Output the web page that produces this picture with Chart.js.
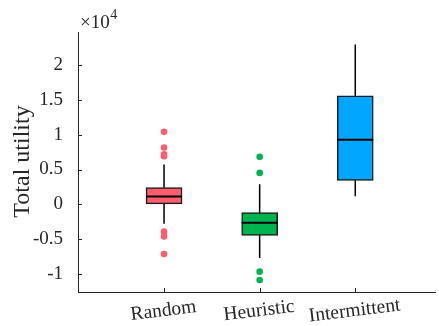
<!DOCTYPE html>
<html lang="en">
<head>
<meta charset="UTF-8">
<title>Total utility</title>
<style>
  html, body { margin: 0; padding: 0; background: #ffffff; }
  .chart-container { position: relative; width: 439px; height: 326px; }
</style>
<script src="https://cdn.jsdelivr.net/npm/chart.js"></script>
</head>
<body>
<div class="chart-container">
  <canvas id="myChart" width="439" height="326"></canvas>
</div>
<script>
// box plot summary per category (values in utility units)
const categories = ['Random', 'Heuristic', 'Intermittent'];
const q1 = [40, -4480, 3440];
const medians = [1100, -2650, 9270];
const q3 = [2390, -1210, 15600];
const whiskerLow = [-2800, -7740, 1140];
const whiskerHigh = [5710, 2860, 23000];
const outliers = [
  [10420, 8160, 7190, 6900, -3950, -4630, -7160],
  [6820, 4510, -9710, -10910],
  []
];
const yTicks = [-10000, -5000, 0, 5000, 10000, 15000, 20000];
const boxColors = ['#ff5c6c', '#00b34f', '#00a6ff'];

const axisColor = '#262626';
const serif = "'Liberation Serif', 'Times New Roman', serif";

const boxData = categories.map((c, i) => ({ x: i + 1, y: [q1[i], q3[i]] }));
const outlierData = [];
const outlierColors = [];
outliers.forEach((list, i) => {
  list.forEach(v => {
    outlierData.push({ x: i + 1, y: v });
    outlierColors.push(boxColors[i]);
  });
});

const boxExtras = {
  id: 'boxExtras',
  afterDatasetsDraw(chart) {
    const ctx = chart.ctx;
    const xs = chart.scales.x, ys = chart.scales.y;
    const bars = chart.getDatasetMeta(0).data;
    ctx.save();
    // whiskers
    ctx.strokeStyle = '#000000';
    ctx.lineWidth = 1.5;
    categories.forEach((c, i) => {
      const px = xs.getPixelForValue(i + 1);
      ctx.beginPath();
      ctx.moveTo(px, ys.getPixelForValue(whiskerLow[i]));
      ctx.lineTo(px, ys.getPixelForValue(q1[i]));
      ctx.moveTo(px, ys.getPixelForValue(q3[i]));
      ctx.lineTo(px, ys.getPixelForValue(whiskerHigh[i]));
      ctx.stroke();
    });
    // medians
    ctx.lineWidth = 2;
    bars.forEach((bar, i) => {
      const py = ys.getPixelForValue(medians[i]);
      ctx.beginPath();
      ctx.moveTo(bar.x - bar.width / 2, py);
      ctx.lineTo(bar.x + bar.width / 2, py);
      ctx.stroke();
    });
    ctx.restore();
  },
  afterDraw(chart) {
    const ctx = chart.ctx;
    const xs = chart.scales.x, ys = chart.scales.y;
    const area = chart.chartArea;
    ctx.save();
    // inward ticks
    ctx.strokeStyle = axisColor;
    ctx.lineWidth = 1;
    ctx.beginPath();
    yTicks.forEach(v => {
      const py = Math.round(ys.getPixelForValue(v)) + 0.5;
      ctx.moveTo(area.left, py);
      ctx.lineTo(area.left + 4, py);
    });
    categories.forEach((c, i) => {
      const px = Math.round(xs.getPixelForValue(i + 1)) + 0.5;
      ctx.moveTo(px, area.bottom);
      ctx.lineTo(px, area.bottom - 4);
    });
    ctx.stroke();

    ctx.fillStyle = axisColor;
    // rotated category labels
    ctx.font = '19.5px ' + serif;
    ctx.textAlign = 'center';
    ctx.textBaseline = 'alphabetic';
    categories.forEach((c, i) => {
      ctx.save();
      ctx.translate(xs.getPixelForValue(i + 1), area.bottom + 24);
      ctx.rotate(-7 * Math.PI / 180);
      ctx.fillText(c, 0, 0);
      ctx.restore();
    });

    // y title
    ctx.save();
    ctx.translate(28.5, 161.5);
    ctx.rotate(-Math.PI / 2);
    ctx.font = '24px ' + serif;
    ctx.fillText('Total utility', 0, 0);
    ctx.restore();

    // exponent
    ctx.textAlign = 'left';
    ctx.font = '19px ' + serif;
    ctx.fillText('\u00d710', area.left + 2, 28);
    const w = ctx.measureText('\u00d710').width;
    ctx.font = '14px ' + serif;
    ctx.fillText('4', area.left + 2 + w + 0.5, 19);
    ctx.restore();
  }
};

const ctx = document.getElementById('myChart').getContext('2d');
const myChart = new Chart(ctx, {
  type: 'bar',
  data: {
    datasets: [{
      type: 'bar',
      data: boxData,
      backgroundColor: boxColors,
      borderColor: '#1a1a1a',
      borderWidth: 1.5,
      borderSkipped: false,
      barThickness: 36
    }, {
      type: 'scatter',
      data: outlierData,
      pointBackgroundColor: outlierColors,
      pointBorderWidth: 0,
      pointRadius: 3.3
    }]
  },
  options: {
    responsive: false,
    animation: false,
    devicePixelRatio: 1,
    layout: { padding: { top: 32, left: 0, right: 0, bottom: 0 } },
    plugins: { legend: { display: false }, tooltip: { enabled: false } },
    scales: {
      x: {
        type: 'linear',
        offset: false,
        min: 0.1,
        max: 3.834,
        grid: { display: false, offset: false },
        border: { display: true, color: axisColor, width: 1 },
        ticks: { display: false },
        afterFit: scale => { scale.height = 34; }
      },
      y: {
        type: 'linear',
        min: -12640,
        max: 24800,
        grid: { display: false },
        border: { display: true, color: axisColor, width: 1 },
        afterBuildTicks: scale => { scale.ticks = yTicks.map(v => ({ value: v })); },
        ticks: {
          color: axisColor,
          padding: 7,
          font: { family: serif, size: 19 },
          callback: v => String(v / 10000)
        },
        afterFit: scale => { scale.width = 78; }
      }
    }
  },
  plugins: [boxExtras]
});
</script>
</body>
</html>
